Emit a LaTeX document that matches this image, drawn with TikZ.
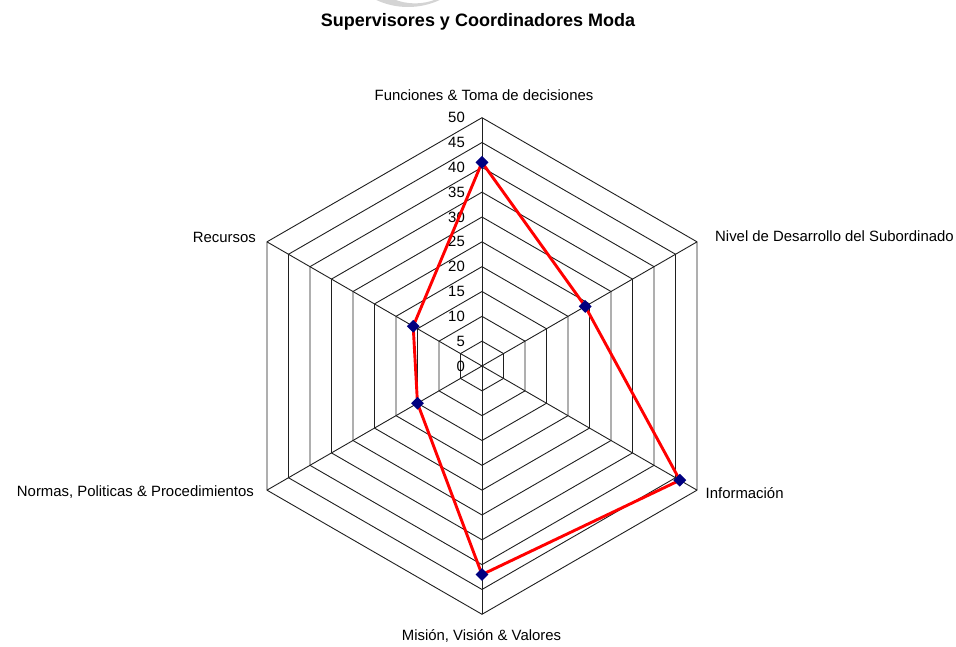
\documentclass[tikz,border=0pt]{standalone}
\usepackage{fontspec}
\setmainfont{Liberation Sans}
\usetikzlibrary{shapes.geometric,calc}
\definecolor{navy}{RGB}{0,0,128}
\definecolor{wmgray}{RGB}{212,212,212}
\begin{document}
\begin{tikzpicture}[x=1pt,y=1pt,
  gridline/.style={draw=black!88, line width=0.9pt},
  series/.style={draw=red, line width=2.9pt, line join=round},
  marker/.style={diamond, fill=navy, inner sep=0pt, minimum width=13pt, minimum height=13pt},
  axislabel/.style={font=\fontsize{14.9}{17}\selectfont, inner sep=0pt},
  ticklabel/.style={font=\fontsize{14.9}{17}\selectfont, anchor=east, inner sep=0pt},
  titlelabel/.style={font=\fontsize{18}{21}\selectfont\bfseries, inner sep=0pt},
]
\useasboundingbox[fill=white] (0,0) rectangle (956,646);
% faint logo fragment at the top edge
\begin{scope}
  \clip (0,0) rectangle (956,646);
  \fill[wmgray, even odd rule] (408,714) circle (75) (415,699) circle (56.4);
\end{scope}

% radar geometry: one unit of value = \u pt
\def\u{4.966}
\coordinate (C) at (482,280);

% concentric hexagon rings, every 5 units
\foreach \k in {1,...,10}{
  \pgfmathsetmacro\r{\k*5*\u}
  \draw[gridline, shift={(482,280)}] (90:\r) -- (30:\r) -- (-30:\r) -- (-90:\r) -- (210:\r) -- (150:\r) -- cycle;
}
% spokes
\foreach \a/\n in {90/f,30/n,-30/i,-90/m,210/p,150/r}{
  \coordinate (v\n) at ($(C)+(\a:50*\u)$);
  \draw[gridline] (C) -- (v\n);
}

% scale labels along the top spoke
\foreach \k in {0,...,10}{
  \pgfmathtruncatemacro\val{\k*5}
  \node[ticklabel] (t\k) at (465,{280+\k*5*\u}) {\val};
}

% category labels
\node[axislabel, anchor=base] (lf) at (484,545) {Funciones \& Toma de decisiones};
\node[axislabel, anchor=base west] (ln) at (715,404.3) {Nivel de Desarrollo del Subordinado};
\node[axislabel, anchor=base west] (li) at (705.5,148) {Información};
\node[axislabel, anchor=base] (lm) at (481.5,6) {Misión, Visión \& Valores};
\node[axislabel, anchor=base east] (lp) at (254,149.3) {Normas, Politicas \& Procedimientos};
\node[axislabel, anchor=base east] (lr) at (256,403.3) {Recursos};

% title
\node[titlelabel, anchor=base] (title) at (478,619.3) {Supervisores y Coordinadores Moda};

% data series
\foreach \a/\v/\n in {90/41/f,30/24/n,-30/46/i,-90/42/m,210/15/p,150/16/r}{
  \coordinate (d\n) at ($(C)+(\a:\v*\u)$);
}
\draw[series] (df) -- (dn) -- (di) -- (dm) -- (dp) -- (dr) -- cycle;
\foreach \n in {f,n,i,m,p,r}{
  \node[marker] (k\n) at (d\n) {};
}
\end{tikzpicture}
\end{document}
